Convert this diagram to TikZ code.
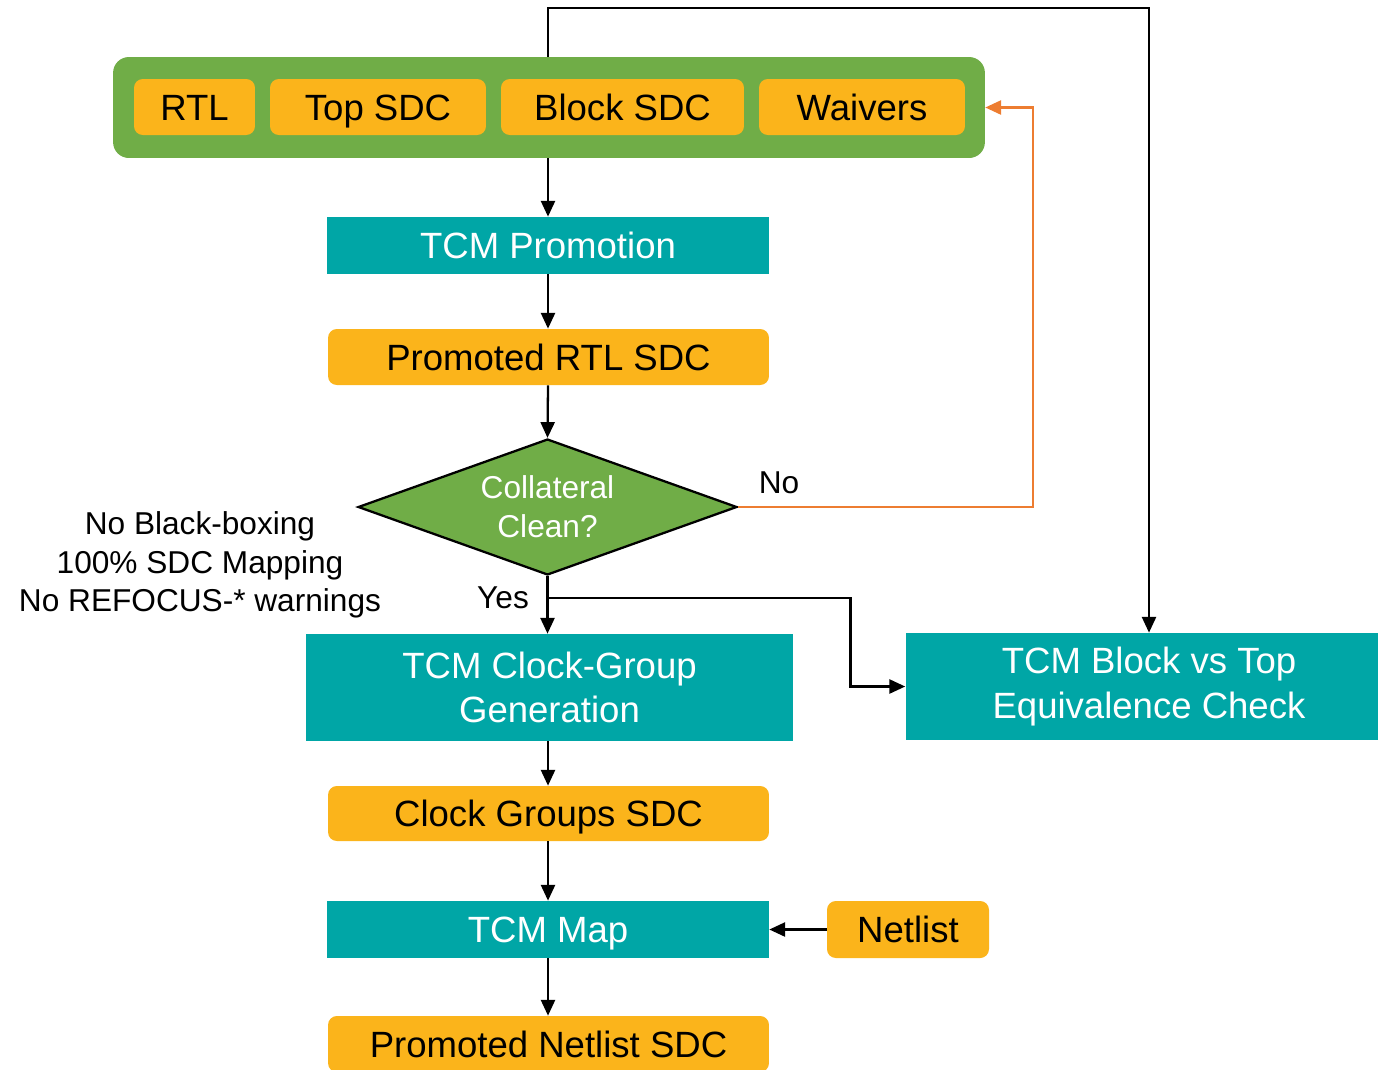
\documentclass[tikz,border=0pt]{standalone}
\usepackage{fontspec}
\setmainfont{Liberation Sans}
\usetikzlibrary{arrows.meta,shapes.geometric}
\definecolor{boxgreen}{HTML}{70AD47}
\definecolor{boxorange}{HTML}{FBB41B}
\definecolor{boxteal}{HTML}{00A6A6}
\definecolor{loopline}{HTML}{ED7D31}
\newcommand{\bigtxt}{\fontsize{20.8}{25.5}\selectfont}
\newcommand{\smalltxt}{\fontsize{18}{22}\selectfont}
\begin{document}
\begin{tikzpicture}
        [x=0.02cm,y=-0.02cm,
         oneline/.style={text height=15pt,text depth=0pt},
         filebox/.style={fill=boxorange,rounded corners=5pt,inner sep=0pt,font=\bigtxt,oneline,
           minimum height=1.12cm},
         toolbox/.style={fill=boxteal,text=white,inner sep=0pt,font=\bigtxt,align=center,
           minimum height=1.14cm},
         arr/.style={line width=1.3pt,-{Triangle[length=9pt,width=8pt]}},
         lbl/.style={font=\smalltxt,inner sep=0pt,align=center}]
        \useasboundingbox (0,0) rectangle (1378,1069);

        \node[fill=boxgreen,rounded corners=9pt,minimum width=17.44cm,minimum height=2.02cm] (inputs) at (549,107.5) {};
        \node[filebox,minimum width=2.42cm] (rtl) at (194.5,107) {RTL};
        \node[filebox,minimum width=4.32cm] (topsdc) at (378,107) {Top SDC};
        \node[filebox,minimum width=4.86cm] (blocksdc) at (622.5,107) {Block SDC};
        \node[filebox,minimum width=4.12cm] (waivers) at (862,107) {Waivers};

        \node[toolbox,oneline,minimum width=8.84cm] (promo) at (548,245.5) {TCM Promotion};
        \node[filebox,minimum width=8.82cm] (promrtl) at (548.5,357) {Promoted RTL SDC};
        \node[diamond,draw,line width=1.3pt,fill=boxgreen,text=white,inner sep=0pt,aspect=2.79,
          minimum width=7.58cm,minimum height=2.72cm,font=\smalltxt,align=center] (check) at (547.5,507) {Collateral\\Clean?};
        \node[toolbox,minimum width=9.74cm,minimum height=2.14cm] (clkgen) at (549.5,687.5) {TCM Clock-Group\\Generation};
        \node[toolbox,minimum width=9.74cm,minimum height=2.14cm] (equiv) at (1149,686.5) {TCM Block vs Top\\Equivalence Check};
        \node[filebox,minimum width=8.82cm,minimum height=1.1cm] (clksdc) at (548.5,813.5) {Clock Groups SDC};
        \node[toolbox,oneline,minimum width=8.84cm] (map) at (548,929.5) {TCM Map};
        \node[filebox,minimum width=3.24cm,minimum height=1.14cm] (netlist) at (908,929.5) {Netlist};
        \node[filebox,minimum width=8.82cm] (promnet) at (548.5,1044) {Promoted Netlist SDC};

        \node[lbl] (rules) at (200,565) {No Black-boxing\\100\% SDC Mapping\\No REFOCUS-* warnings};
        \node[lbl] (nolbl) at (779,483) {No};
        \node[lbl] (yeslbl) at (503,598) {Yes};

        \draw[arr] (inputs.north -| promo.north) -- ++(0,-49) -| (equiv.north);
        \draw[arr] (inputs.south -| promo.north) -- (promo.north);
        \draw[arr] (promo.south) -- (promo.south |- promrtl.north);
        \draw[arr] (promrtl.south -| promo.south) -- (check.north);
        \draw[arr,loopline] (check.east) -- ++(295,0) |- (inputs.east);
        \draw[arr] (check.south) -- (check.south |- clkgen.north);
        \coordinate (yes) at (check.south |- yeslbl);
        \draw[arr] (yes) -- ++(303,0) |- (equiv.west);
        \draw[arr] (clkgen.south -| promo.south) -- (clksdc.north -| promo.south);
        \draw[arr] (clksdc.south -| promo.south) -- (map.north);
        \draw[arr] (map.south) -- (promnet.north -| map.south);
        \draw[arr] (netlist.west) -- (map.east);
      \end{tikzpicture}
\end{document}
